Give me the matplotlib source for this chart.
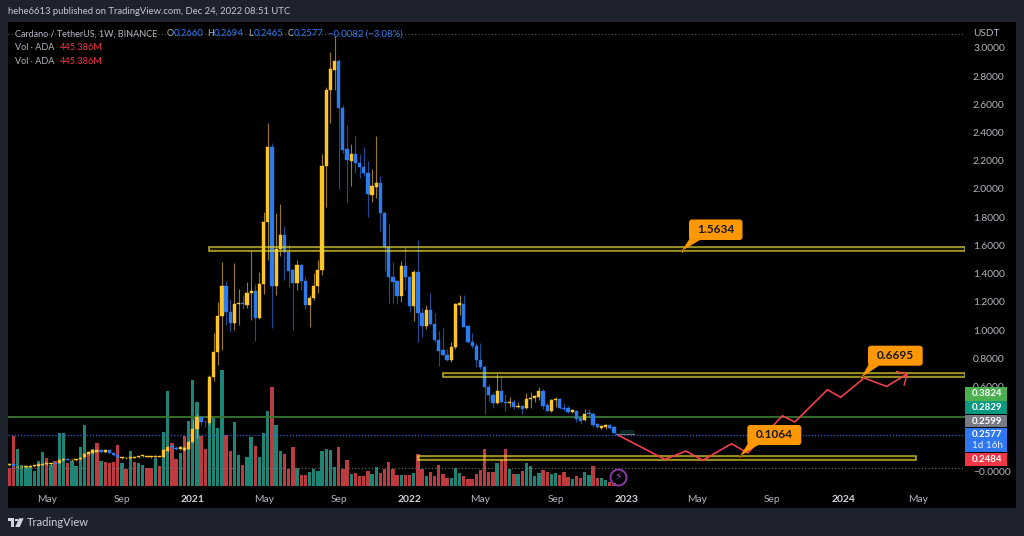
# Cardano / TetherUS weekly chart, TradingView dark layout
import matplotlib
matplotlib.use("Agg")
import matplotlib.pyplot as plt
import pandas as pd
from matplotlib.colors import to_rgba
from matplotlib.patches import Rectangle, Polygon, FancyBboxPatch
from matplotlib.transforms import Affine2D

plt.rcParams['font.family'] = ['Lato', 'DejaVu Sans']

first_week = pd.Timestamp('2020-03-02')

opens = [.044,.047,.026,.026,.029,.031,.034,.038,.045,.05,.05,.056,.056,.076,.088,.075,.077,.083,.1,.122,
         .125,.138,.15,.136,.146,.128,.114,.09,.09,.092,.096,.099,.105,.102,.1,.101,.103,.101,.142,.179,
         .165,.158,.149,.154,.206,.296,.385,.35,.338,.665,.844,1.099,1.312,1.128,1.05,1.184,1.191,1.177,1.262,1.277,
         1.085,1.326,1.766,2.298,1.312,1.574,1.674,1.553,1.426,1.333,1.461,1.348,1.177,1.227,1.312,1.426,2.163,2.702,2.844,2.908,
         2.574,2.284,2.199,2.248,2.184,2.156,2.113,1.957,2.014,2.043,1.83,1.589,1.376,1.348,1.241,1.454,1.376,1.17,1.411,1.121,
         1.028,1.142,1.043,.929,.858,.823,.787,.879,1.177,1.184,1.028,.915,.887,.787,.738,.596,.539,.482,.567,.489,
         .486,.489,.454,.461,.447,.511,.518,.525,.567,.468,.426,.504,.511,.447,.447,.418,.426,.376,.362,.411,
         .404,.333,.305,.312,.326,.312,.266]
highs = [.056,.05,.036,.034,.036,.04,.042,.05,.056,.058,.058,.06,.082,.092,.092,.085,.086,.098,.128,.142,
         .152,.158,.156,.15,.15,.132,.118,.102,.098,.1,.105,.108,.116,.11,.108,.114,.11,.155,.178,.188,
         .175,.176,.176,.218,.36,.404,.39,.36,.68,.979,1.2,1.482,1.348,1.22,1.475,1.291,1.248,1.34,1.56,1.326,
         1.411,1.837,2.468,2.326,1.83,1.894,1.738,1.61,1.43,1.496,1.465,1.376,1.248,1.404,1.496,2.248,2.723,2.972,3.085,2.922,
         2.596,2.454,2.319,2.376,2.248,2.298,2.199,2.142,2.376,2.092,1.837,1.759,1.482,1.355,1.489,1.596,1.38,1.426,1.638,1.156,
         1.177,1.262,1.121,.993,1.014,.865,.915,1.191,1.248,1.248,1.035,.979,.908,.908,.752,.617,.56,.688,.674,.546,
         .525,.511,.489,.468,.553,.56,.539,.596,.582,.482,.511,.525,.518,.482,.461,.44,.43,.39,.44,.44,
         .418,.34,.326,.333,.333,.319,.2694]
lows = [.036,.026,.022,.021,.025,.028,.03,.034,.04,.045,.045,.048,.052,.07,.076,.07,.073,.078,.095,.115,
        .12,.132,.13,.13,.126,.11,.096,.086,.086,.088,.092,.095,.1,.098,.096,.097,.098,.098,.138,.162,
        .148,.15,.145,.15,.2,.232,.326,.31,.33,.638,.75,.858,1.035,.986,1.0,1.035,1.149,1.156,1.071,.922,
        1.078,1.255,1.496,1.014,1.248,1.525,1.355,1.305,1.0,1.284,1.284,1.149,1.021,1.213,1.262,1.39,1.872,2.468,2.702,2.0,
        2.255,1.908,2.021,2.113,2.078,2.092,1.801,1.908,1.936,1.702,1.418,1.191,1.191,1.184,1.199,1.284,1.128,1.064,.915,.95,
        1.007,1.035,.915,.745,.82,.78,.773,.865,1.106,1.018,.908,.872,.738,.723,.404,.496,.447,.475,.482,.426,
        .454,.44,.447,.404,.44,.447,.489,.504,.44,.426,.42,.454,.44,.426,.411,.411,.348,.333,.355,.383,
        .312,.305,.298,.298,.298,.262,.2465]
closes = [.05,.035,.031,.03,.034,.036,.04,.047,.053,.055,.054,.052,.076,.088,.08,.081,.083,.095,.124,.138,
          .148,.15,.136,.146,.128,.114,.1,.098,.094,.097,.102,.105,.112,.107,.104,.107,.106,.149,.168,.17,
          .158,.168,.165,.208,.30,.385,.35,.345,.665,.844,1.099,1.312,1.128,1.05,1.184,1.191,1.184,1.262,1.277,1.085,
          1.326,1.766,2.298,1.312,1.574,1.674,1.553,1.418,1.333,1.461,1.348,1.177,1.227,1.312,1.426,2.163,2.702,2.851,2.908,2.574,
          2.277,2.206,2.248,2.184,2.156,2.113,1.965,2.021,2.043,1.83,1.589,1.376,1.34,1.241,1.454,1.376,1.17,1.411,1.121,1.028,
          1.142,1.043,.929,.851,.823,.787,.879,1.184,1.191,1.021,.915,.887,.787,.738,.596,.539,.482,.567,.489,.482,
          .493,.454,.461,.44,.511,.518,.532,.567,.461,.426,.504,.511,.447,.44,.418,.433,.369,.355,.404,.404,
          .326,.312,.319,.326,.305,.27,.2577]

# weekly volume in millions
volume = [5830,16500,12100,6820,6160,6380,5060,8360,11110,9350,6930,8250,17600,17600,7700,8360,6600,12980,20130,10780,
          12100,14300,8360,8030,7480,7810,13530,7480,5720,11550,8030,7480,7040,5940,5830,9130,6600,17820,31240,14190,
          8800,10780,16500,21560,34980,27720,16610,12100,21560,22330,19140,38280,16720,11440,21230,10340,7040,9570,16170,13200,
          9570,17490,24860,32670,20240,11660,10450,5610,12760,5940,3740,3520,4620,5720,5060,
          11440,12100,11770,6160,12760,5500,8580,3960,4180,3410,3410,4950,3960,6380,4400,5500,7810,5500,3740,3630,
          3630,3740,4180,10560,5720,3190,4620,3410,6930,3960,2750,2750,5940,4290,3190,2200,2200,3960,5280,12210,
          4620,4620,7480,8580,12210,5720,3960,3960,4950,7700,6600,3300,4400,5280,4620,3850,4290,3740,4510,2970,
          2200,3300,2530,4620,3740,6600,2750,2640,2090,1430,1100,445.386]
volume_side = ('rrgggggggrgrggrggggr'
               'grgrrrrgrgrggrrgrggr'
               'rgrgggrrggggrrggrggr'
               'gggrggrrrgrrggg'
               'ggggrrrgrrrrggrrrrrg'
               'rrgrrgrrrrrgggrrrrrr'
               'rrgrrgrgrggggrrggrrr'
               'grrggrrggrrr')

month_ticks = ['2020-05-04', '2020-09-07', '2021-01-04', '2021-05-03', '2021-09-06', '2022-01-03', '2022-05-02',
               '2022-09-05', '2023-01-02', '2023-05-01', '2023-09-04', '2024-01-01', '2024-05-06']
month_labels = ['May', 'Sep', '2021', 'May', 'Sep', '2022', 'May', 'Sep', '2023', 'May', 'Sep', '2024', 'May']
price_ticks = [0.0, 0.6, 0.8, 1.0, 1.2, 1.4, 1.6, 1.8, 2.0, 2.2, 2.4, 2.6, 2.8, 3.0]

# drawn forecast path, in weeks since the first candle
path_week = [146.0, 157.2, 162.3, 166.3, 173.2, 177.1, 185.4, 188.4, 196.2, 199.4, 205.0, 210.4, 215.3]
path_price = [.255, .083, .142, .076, .194, .128, .392, .348, .577, .523, .66, .60, .688]
arrow_week = [212.8, 215.3, 214.6]
arrow_price = [.705, .688, .61]

# support / resistance boxes: start week, end week, low, high
zone_start = [47.9, 104.1, 98.1]
zone_end = [229.2, 229.2, 217.4]
zone_low = [1.56, .665, .078]
zone_high = [1.59, .697, .1085]

level_green = .385
level_last = .2577
level_grey = .0215
level_top = 3.10

BG = '#1e222d'
TXT = '#b2b5be'
UP = '#ffc425'
DOWN = '#2e7bf0'
ORANGE = '#ff9800'

fig = plt.figure(figsize=(10.24, 5.36), dpi=100, facecolor=BG)
# pixel coordinates measured from the top left of the picture
top_px = Affine2D().scale(1, -1).translate(0, 536)


def label(x, y, s, color=TXT, size=7.6, ha='left', weight='normal', z=8):
    return fig.text(x / 1024, 1 - y / 536, s, color=color, fontsize=size, ha=ha, va='center', weight=weight, zorder=z)


fig.add_artist(Rectangle((8, 22), 1008, 486, transform=top_px, fc='black', ec='none', zorder=-1))

ax = fig.add_axes([8 / 1024, 1 - 487 / 536, 957 / 1024, 465 / 536])
ax_vol = ax.twinx()
ax.set_zorder(ax_vol.get_zorder() + 1)
ax.patch.set_visible(False)
ax_vol.patch.set_facecolor('black')

# volume
weeks = list(range(len(closes)))
vol_colors = ['#1c8576' if s == 'g' else '#bd3b3f' for s in volume_side]
ax_vol.bar(weeks, volume, width=0.8, color=vol_colors, linewidth=0)
ax_vol.set_ylim(-330, 153120)
ax_vol.set_yticks([])

# candles
candle_colors = [UP if c >= o else DOWN for o, c in zip(opens, closes)]
ax.vlines(weeks, lows, highs, colors=candle_colors, linewidth=0.8, alpha=0.62, zorder=3)
body_low = [min(o, c) for o, c in zip(opens, closes)]
body_size = [abs(o - c) for o, c in zip(opens, closes)]
ax.bar(weeks, body_size, bottom=body_low, width=0.78, color=candle_colors, edgecolor=candle_colors, linewidth=0.3, zorder=3.2)

# price lines
ax.axhline(level_green, color='#37762f', linewidth=1.3, zorder=2)
ax.axhline(level_last, color='#2962d9', linewidth=0.9, linestyle=(0, (1, 1.5)), zorder=2)
ax.axhline(level_grey, color='#6d6f76', linewidth=0.8, linestyle=(0, (1, 2)), zorder=2)
ax.axhline(level_top, color='#55575d', linewidth=0.8, linestyle=(0, (1, 2)), zorder=2)

# zones
for start, end, lo, hi in zip(zone_start, zone_end, zone_low, zone_high):
    ax.add_patch(Rectangle((start, lo), end - start, hi - lo, fc=to_rgba('#e8d92f', 0.12), ec=to_rgba('#e8d92f', 0.8),
                           linewidth=1.1, zorder=4))

# small faded drawing at the last candle
ax.add_patch(Rectangle((146.5, .262), 3.2, .026, fc=to_rgba('#1c8576', 0.3), ec='none', zorder=4))
ax.plot([146.3, 149.7], [.262, .262], color='#777a80', linewidth=0.7, zorder=4)

# forecast
ax.plot(path_week, path_price, color='#fb3f50', linewidth=1.15, zorder=5)
ax.plot(arrow_week, arrow_price, color='#fb3f50', linewidth=1.0, zorder=5)

# lightning marker on the last bar
ax.plot([146], [-.04], 'o', ms=11.5, mfc='none', mec='#8c3aa6', mew=1.4, zorder=6)
ax.text(146, -.042, '\u26a1', color='#9c45b8', fontsize=8, ha='center', va='center', family='DejaVu Sans', zorder=6)

ax.set_xlim(-0.31, 229.2)
ax.set_ylim(-0.113, 3.184)
tick_weeks = [(pd.Timestamp(d) - first_week).days / 7 for d in month_ticks]
ax.set_xticks(tick_weeks)
ax.set_xticklabels(month_labels)
ax.yaxis.tick_right()
ax.set_yticks(price_ticks)
ax.set_yticklabels(['\u22120.0000' if p == 0 else f'{p:.4f}' for p in price_ticks])
ax.tick_params(axis='both', length=0, labelcolor=TXT, labelsize=7.4)
ax.tick_params(axis='x', pad=5.5)
ax.tick_params(axis='y', pad=5.8)
for t, s in zip(ax.get_xticklabels(), month_labels):
    if s.isdigit():
        t.set_color('#d1d4dc')
        t.set_fontweight('bold')
for a in (ax, ax_vol):
    for sp in a.spines.values():
        sp.set_visible(False)

# price scale tags
tag_text = ['0.3824', '0.2829', '0.2599', '0.2577', '0.2484']
tag_colors = ['#4caf50', '#089981', '#787b86', '#2e77f0', '#f23645']
tag_top = [387.3, 401, 414.7, 428, 453.3]
tag_bottom = [400.5, 414, 427.4, 452.3, 466]
for s, c, y0, y1 in zip(tag_text, tag_colors, tag_top, tag_bottom):
    fig.add_artist(Rectangle((965, y0), 41.5, y1 - y0, transform=top_px, fc=c, ec='none', zorder=7))
    label(987, y0 + 6.4, s, color='white', ha='center', size=7.0, weight='bold')
label(987, 445.3, '1d 16h', color='#e8eefc', ha='center', size=7.2)
label(973, 33, 'USDT', color=TXT, size=7.2)

# callouts: text, box left, top, right, bottom, anchor x, y
callout_text = ['1.5634', '0.6695', '0.1064']
callout_box = [(689, 219.5, 742.5, 240), (868, 345.7, 922.7, 365.7), (747.3, 425, 801.3, 445)]
callout_tip = [(682, 250.7), (861.7, 377), (740, 456)]
for s, (x0, y0, x1, y1), (tx, ty) in zip(callout_text, callout_box, callout_tip):
    fig.add_artist(FancyBboxPatch((x0 + 2, y0 + 2), x1 - x0 - 4, y1 - y0 - 4, boxstyle='round,pad=2,rounding_size=3',
                                  transform=top_px, fc=ORANGE, ec='none', zorder=7))
    fig.add_artist(Polygon([(x0 + 1, y1 - 2), (x0 + 11, y1), (tx, ty)], transform=top_px, fc=ORANGE, ec='none', zorder=7))
    fig.add_artist(Rectangle((tx - 1.3, ty - 1.3), 2.6, 2.6, transform=top_px, fc=ORANGE, ec='#4a3000', linewidth=0.4, zorder=7))
    label((x0 + x1) / 2, (y0 + y1) / 2, s, color='#131722', size=8.6, ha='center', weight='bold')

# header and legend
label(8, 12, 'hehe6613 published on TradingView.com, Dec 24, 2022 08:51 UTC', color='#c4c7cf', size=6.8)
label(15, 34, 'Cardano / TetherUS, 1W, BINANCE', size=6.5)
for x, s in zip([167, 207, 248, 288], 'OHLC'):
    label(x, 34, s, size=6.5)
for x, s in zip([173.5, 213.5, 253.5, 293.5], ['0.2660', '0.2694', '0.2465', '0.2577']):
    label(x, 34, s, color=DOWN, size=6.8)
label(328, 34, '\u22120.0082 (\u22123.08%)', color=DOWN, size=6.8)
for y in (48, 61):
    label(15, y, 'Vol \u00b7 ADA', size=6.5)
    label(60, y, '445.386M', color='#f23645', size=6.6)

# TradingView logo
logo = '#d1d4dc'
fig.add_artist(Polygon([(8, 518.3), (14.2, 518.3), (14.2, 527), (11, 527), (11, 521), (8, 521)], transform=top_px, fc=logo, ec='none'))
fig.add_artist(Polygon([(15.2, 518.5), (18, 518.5), (18, 521), (15.2, 521)], transform=top_px, fc=logo, ec='none'))
fig.add_artist(Polygon([(19, 518.3), (23.6, 518.3), (19.8, 527), (15.2, 527)], transform=top_px, fc=logo, ec='none'))
label(26.5, 523, 'TradingView', color='#d1d4dc', size=8.0)

fig.savefig('out.png', dpi=100, facecolor=BG)
